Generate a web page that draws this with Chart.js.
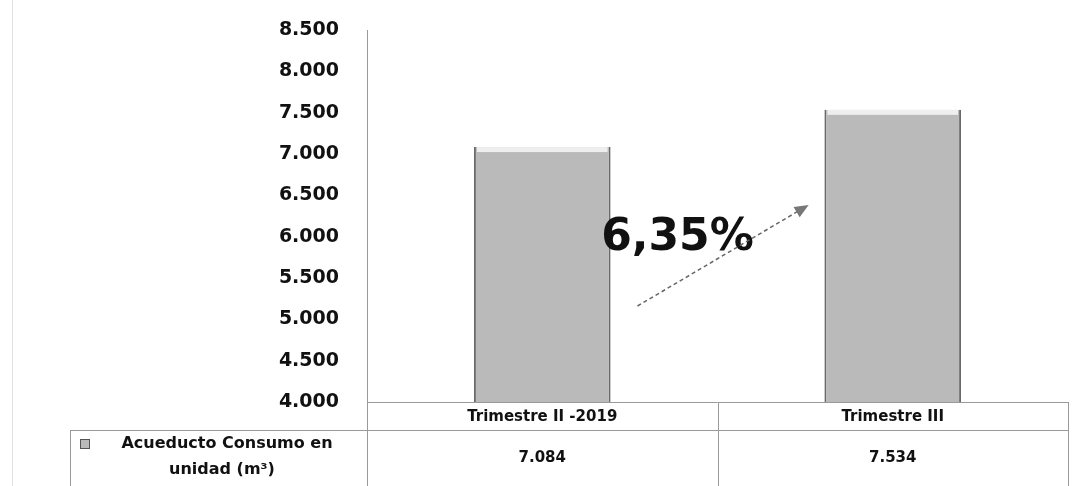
<!DOCTYPE html>
<html>
<head>
<meta charset="utf-8">
<script src="https://cdn.jsdelivr.net/npm/chart.js@4.4.1/dist/chart.umd.min.js"></script>
<style>
  html, body { margin: 0; padding: 0; background: #fff; }
  #wrap { width: 1074px; height: 486px; }
</style>
</head>
<body>
<div id="wrap"><canvas id="chart" width="1074" height="486"></canvas></div>
<script>
// data
const categories = ["Trimestre II -2019", "Trimestre III"];
const consumo = [7084, 7534];
const seriesName = ["Acueducto Consumo en", "unidad (m³)"];
const yTicks = [4000, 4500, 5000, 5500, 6000, 6500, 7000, 7500, 8000, 8500];
const variation = "6,35%";

const fmt = (v) => v.toLocaleString("de-DE");
const FONT = "'DejaVu Sans', Verdana, sans-serif";

// table under the chart + arrow annotation
const tablePlugin = {
  id: "tablePlugin",
  afterDraw(chart) {
    const ctx = chart.ctx;
    const area = chart.chartArea;
    const x = chart.scales.x;
    const left = area.left, right = area.right, base = area.bottom;
    const row1 = base + 28, bottom = 486;
    const colW = (right - left) / categories.length;

    ctx.save();
    ctx.strokeStyle = "#9a9a9a";
    ctx.lineWidth = 1;
    ctx.beginPath();
    ctx.moveTo(left, base + 0.5); ctx.lineTo(right, base + 0.5);
    ctx.moveTo(70, row1 + 0.5); ctx.lineTo(right, row1 + 0.5);
    for (let i = 0; i <= categories.length; i++) {
      const cx = Math.round(left + i * colW) + 0.5;
      ctx.moveTo(cx, base); ctx.lineTo(cx, bottom);
    }
    ctx.moveTo(70.5, row1); ctx.lineTo(70.5, bottom);
    ctx.stroke();
    ctx.strokeStyle = "#e2e2e2";
    ctx.beginPath();
    ctx.moveTo(12.5, 0); ctx.lineTo(12.5, bottom);
    ctx.stroke();

    ctx.fillStyle = "#111";
    ctx.textAlign = "center";
    ctx.textBaseline = "middle";
    ctx.font = "bold 15px " + FONT;
    categories.forEach((c, i) => {
      const cx = x.getPixelForValue(i);
      ctx.fillText(c, cx, base + 15);
      ctx.fillText(fmt(consumo[i]), cx, row1 + 28);
    });

    // legend cell
    ctx.font = "bold 16px " + FONT;
    ctx.fillText(seriesName[0], 227, row1 + 14);
    ctx.fillText(seriesName[1], 222, row1 + 40);
    ctx.fillStyle = "#b9b9b9";
    ctx.strokeStyle = "#555";
    ctx.fillRect(80, row1 + 9, 9, 9);
    ctx.strokeRect(80.5, row1 + 9.5, 9, 9);

    // variation annotation
    const x0 = x.getPixelForValue(0), x1 = x.getPixelForValue(1);
    const mid = (x0 + x1) / 2;
    ctx.fillStyle = "#111";
    ctx.font = "bold 44px " + FONT;
    ctx.textAlign = "center";
    ctx.textBaseline = "alphabetic";
    ctx.fillText(variation, mid - 40, 250);

    const ax = mid - 80, ay = 306, bx = mid + 86, by = 208;
    ctx.strokeStyle = "#666";
    ctx.lineWidth = 1.5;
    ctx.setLineDash([4, 3]);
    ctx.beginPath();
    ctx.moveTo(ax, ay); ctx.lineTo(bx, by);
    ctx.stroke();
    ctx.setLineDash([]);
    const ang = Math.atan2(by - ay, bx - ax);
    ctx.fillStyle = "#777";
    ctx.beginPath();
    ctx.moveTo(bx + 6 * Math.cos(ang), by + 6 * Math.sin(ang));
    ctx.lineTo(bx - 8 * Math.cos(ang) + 6 * Math.sin(ang), by - 8 * Math.sin(ang) - 6 * Math.cos(ang));
    ctx.lineTo(bx - 8 * Math.cos(ang) - 6 * Math.sin(ang), by - 8 * Math.sin(ang) + 6 * Math.cos(ang));
    ctx.closePath();
    ctx.fill();
    ctx.restore();
  },
};

// lighter cap on top of each bar
const capPlugin = {
  id: "capPlugin",
  afterDatasetsDraw(chart) {
    const ctx = chart.ctx;
    chart.getDatasetMeta(0).data.forEach((bar) => {
      const w = bar.width;
      ctx.save();
      ctx.fillStyle = "rgba(255,255,255,0.75)";
      ctx.fillRect(bar.x - w / 2 + 3, bar.y, w - 6, 5);
      ctx.restore();
    });
  },
};

new Chart(document.getElementById("chart"), {
  type: "bar",
  data: {
    labels: categories,
    datasets: [
      {
        label: seriesName.join(" "),
        data: consumo,
        backgroundColor: "#bababa",
        borderColor: "#6a6a6a",
        borderWidth: { left: 2, right: 2, top: 0, bottom: 0 },
        borderSkipped: false,
        barPercentage: 0.39,
        categoryPercentage: 1,
      },
    ],
  },
  options: {
    responsive: false,
    animation: false,
    layout: { padding: { top: 30, right: 6, bottom: 84, left: 0 } },
    plugins: { legend: { display: false }, tooltip: { enabled: false } },
    scales: {
      x: {
        display: false,
      },
      y: {
        min: 4000,
        max: 8500,
        afterFit: (s) => { s.width = 367; s.paddingTop = 0; },
        afterBuildTicks: (s) => { s.ticks = yTicks.map((v) => ({ value: v })); },
        grid: { display: false, drawTicks: false },
        border: { display: true, color: "#999", width: 1 },
        ticks: {
          padding: 28,
          color: "#111",
          font: { family: FONT, size: 19, weight: "bold" },
          callback: (v) => fmt(v),
        },
      },
    },
  },
  plugins: [tablePlugin, capPlugin],
});
</script>
</body>
</html>
